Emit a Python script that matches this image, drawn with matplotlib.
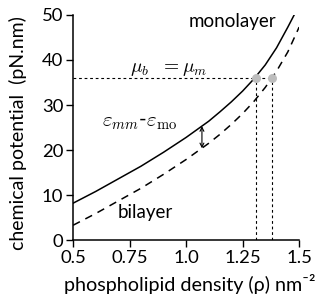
import matplotlib
matplotlib.use("Agg")
import matplotlib.pyplot as plt

plt.rcParams['mathtext.fontset'] = 'cm'
plt.rcParams['font.family'] = ['Lato', 'DejaVu Sans']

# data
mono_x = [0.5, 0.6, 0.7, 0.8, 0.9, 1.0, 1.1, 1.15, 1.2, 1.25, 1.3, 1.35, 1.4, 1.45, 1.478]
mono_y = [8.2, 10.8, 13.6, 16.4, 19.5, 22.8, 26.4, 28.5, 30.7, 33.1, 35.8, 38.9, 42.7, 47.3, 50.0]
bi_x = [0.5, 0.6, 0.7, 0.8, 0.9, 1.0, 1.1, 1.15, 1.2, 1.25, 1.3, 1.35, 1.4, 1.45, 1.5]
bi_y = [3.3, 5.9, 8.7, 11.5, 14.6, 17.9, 21.5, 23.5, 25.7, 28.1, 30.8, 33.9, 37.5, 41.8, 47.3]
mu_level = 36.0
rho_mono = 1.31
rho_bi = 1.38
arrow_x = 1.07
arrow_top = 25.3
arrow_bot = 20.4
xticks = [0.5, 0.75, 1.0, 1.25, 1.5]
xticklabels = ["0.5", "0.75", "1.0", "1.25", "1.5"]
yticks = [0, 10, 20, 30, 40, 50]

fig = plt.figure(figsize=(3.22, 2.99), dpi=100)
ax = fig.add_axes([0.227, 0.197, 0.702, 0.753])

ax.plot(mono_x, mono_y, color='black', lw=1.1, solid_joinstyle='round')
ax.plot(bi_x, bi_y, color='black', lw=1.1, dashes=(5, 4))

ax.plot([0.5, rho_bi], [mu_level, mu_level], color='black', lw=0.8, dashes=(2.5, 2.5))
ax.plot([rho_mono, rho_mono], [0, mu_level], color='black', lw=0.8, dashes=(2.5, 2.5))
ax.plot([rho_bi, rho_bi], [0, mu_level], color='black', lw=0.8, dashes=(2.5, 2.5))
ax.scatter([rho_mono, rho_bi], [mu_level, mu_level], s=42, color='#bdbdbd', zorder=5, linewidths=0)

ax.annotate('', xy=(arrow_x, arrow_bot), xytext=(arrow_x, arrow_top),
            arrowprops=dict(arrowstyle='<->', lw=0.8, color='black',
                            shrinkA=0, shrinkB=0, mutation_scale=7))

ax.text(0.752, 37.3, r'$\mu_b\ \ = \mu_m$', fontsize=14, ha='left', va='baseline')
ax.text(0.628, 25.2, r'$\varepsilon_{mm}$-$\varepsilon_{\mathrm{mo}}$', fontsize=15, ha='left', va='baseline')
ax.text(1.01, 47.3, 'monolayer', fontsize=13.5, ha='left', va='baseline')
ax.text(0.697, 4.9, 'bilayer', fontsize=13.5, ha='left', va='baseline')

ax.set_xlim(0.5, 1.5)
ax.set_ylim(0, 50)
ax.set_xticks(xticks)
ax.set_xticklabels(xticklabels)
ax.set_yticks(yticks)
ax.tick_params(labelsize=13.3, length=5, width=1, direction='out', pad=2)
for s in ['top', 'right']:
    ax.spines[s].set_visible(False)
for s in ['left', 'bottom']:
    ax.spines[s].set_linewidth(1.1)

ax.set_xlabel('phospholipid density (ρ) nm⁻²', fontsize=14.2)
ax.set_ylabel('chemical potential  (pN.nm)', fontsize=14)
ax.xaxis.set_label_coords(0.518, -0.152)
ax.yaxis.set_label_coords(-0.204, 0.476)

fig.savefig('out.png', dpi=100)
